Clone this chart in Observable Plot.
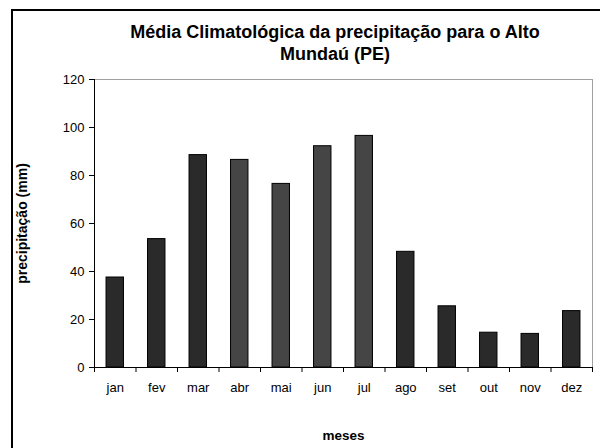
<!DOCTYPE html>
<html><head><meta charset="utf-8">
<script src="https://cdn.jsdelivr.net/npm/d3@7"></script>
<script src="https://cdn.jsdelivr.net/npm/@observablehq/plot@0.6"></script>
<style>
body{margin:0;background:#fff;overflow:hidden;}
#wrap{position:relative;width:600px;height:448px;overflow:hidden;font-family:"Liberation Sans",Arial,sans-serif;color:#000;background:#fff;}
#frame{position:absolute;left:11px;top:9px;width:700px;height:600px;border:2px solid #000;pointer-events:none;}
#title{height:68px;box-sizing:border-box;padding-top:21px;margin-left:80px;width:510px;text-align:center;font-weight:bold;font-size:18px;line-height:22px;white-space:nowrap;}
#chart svg{display:block;}
</style></head>
<body>
<div id="wrap">
  <div id="title">Média Climatológica da precipitação para o Alto<br>Mundaú (PE)</div>
  <div id="chart"></div>
  <div id="frame"></div>
</div>
<script>
const meses = ["jan","fev","mar","abr","mai","jun","jul","ago","set","out","nov","dez"];
const precipitacao = [37.5, 53.5, 88.5, 86.5, 76.5, 92.2, 96.5, 48.2, 25.5, 14.5, 14.0, 23.5];
const mesesDestaque = ["abr","mai","jun","jul"];
const yTicks = [0, 20, 40, 60, 80, 100, 120];

const data = meses.map((m, i) => ({mes: m, i, valor: precipitacao[i], grupo: mesesDestaque.includes(m) ? "destaque" : "normal"}));

const chart = Plot.plot({
  width: 600,
  height: 380,
  marginTop: 11,
  marginBottom: 81,
  marginLeft: 94,
  marginRight: 8,
  style: {fontFamily: "'Liberation Sans', Arial, sans-serif", fontSize: "13px", color: "#000", background: "#fff"},
  x: {domain: [0, meses.length]},
  y: {domain: [0, 120]},
  color: {domain: ["normal", "destaque"], range: ["#2a2a2a", "#454545"]},
  marks: [
    Plot.frame({stroke: "#a0a0a0"}),
    Plot.rectY(data, {x1: d => d.i + 0.29, x2: d => d.i + 0.71, y: "valor", fill: "grupo", stroke: "#000", strokeWidth: 1}),
    Plot.ruleY([0], {stroke: "#000"}),
    Plot.ruleX([0], {stroke: "#000"}),
    Plot.axisY({ticks: yTicks, tickSize: 5, tickPadding: 5, fontSize: 13, label: null, stroke: "#000"}),
    Plot.axisX({ticks: d3.range(meses.length + 1), tickSize: 5, tickFormat: () => "", label: null, stroke: "#000"}),
    Plot.axisX({ticks: meses.map((d, i) => i + 0.5), tickSize: 0, tickPadding: 15, fontSize: 13, tickFormat: d => meses[Math.floor(d)], label: null}),
    Plot.text(["precipitação (mm)"], {frameAnchor: "left", dx: -72, rotate: -90, textAnchor: "middle", lineAnchor: "middle", fontWeight: "bold", fontSize: 14}),
    Plot.text(["meses"], {frameAnchor: "bottom", dy: 68, textAnchor: "middle", lineAnchor: "middle", fontWeight: "bold", fontSize: 13.5})
  ]
});
document.getElementById("chart").appendChild(chart);
</script>
</body></html>
